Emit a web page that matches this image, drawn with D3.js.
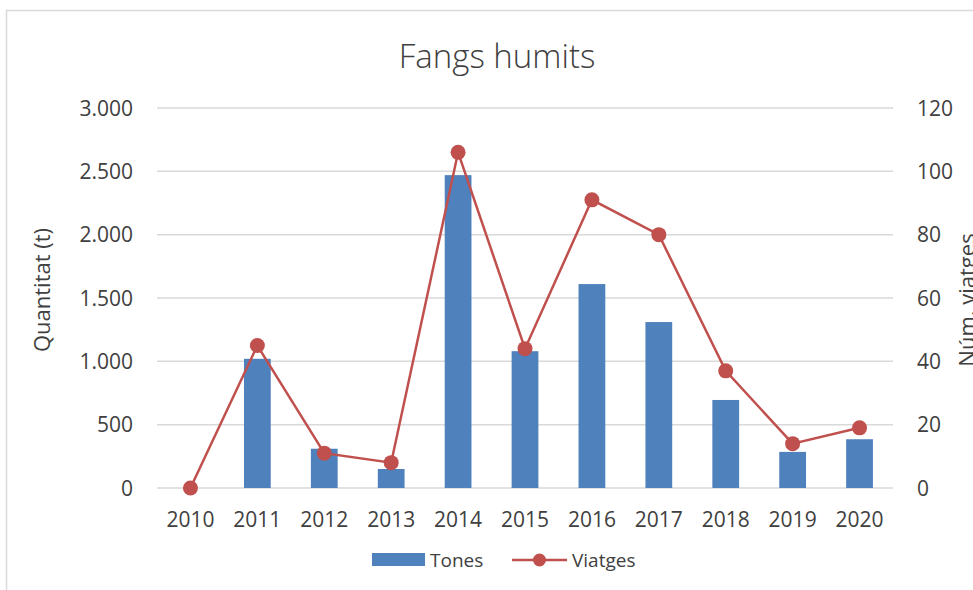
<!DOCTYPE html>
<html>
<head>
<meta charset="utf-8">
<script src="https://cdn.jsdelivr.net/npm/d3@7"></script>
<style>
  body { margin: 0; background: #fff; }
  text { font-family: "Open Sans", "Liberation Sans", sans-serif; fill: #404040; }
</style>
</head>
<body>
<svg id="chart" width="973" height="590"></svg>
<script>
// data
const years = ['2010', '2011', '2012', '2013', '2014', '2015', '2016', '2017', '2018', '2019', '2020'];
const tones = [0, 1020, 310, 150, 2470, 1080, 1610, 1310, 695, 285, 385];
const viatges = [0, 45, 11, 8, 106, 44, 91, 80, 37, 14, 19];
const leftTicks = [0, 500, 1000, 1500, 2000, 2500, 3000];
const rightTicks = [0, 20, 40, 60, 80, 100, 120];

const svg = d3.select('#chart');

// chart border (cut off on the right/bottom)
svg.append('rect')
  .attr('x', 6.5).attr('y', 10.5)
  .attr('width', 1000).attr('height', 640)
  .attr('fill', 'none')
  .attr('stroke', '#d9d9d9')
  .attr('stroke-width', 1.5);

const plotL = 157, plotR = 893, plotT = 108, plotB = 488;

const x = d3.scaleBand().domain(years).range([plotL, plotR]).paddingInner(0).paddingOuter(0);
const yL = d3.scaleLinear().domain([0, 3000]).range([plotB, plotT]);
const yR = d3.scaleLinear().domain([0, 120]).range([plotB, plotT]);

const fmt = d => d3.format(',')(d).replace(/,/g, '.');

// gridlines
svg.append('g').selectAll('line')
  .data(leftTicks)
  .enter().append('line')
  .attr('x1', plotL).attr('x2', plotR)
  .attr('y1', d => yL(d)).attr('y2', d => yL(d))
  .attr('stroke', '#d9d9d9')
  .attr('stroke-width', 1.5);

// left axis labels
svg.append('g').selectAll('text')
  .data(leftTicks)
  .enter().append('text')
  .attr('x', 133)
  .attr('y', d => yL(d))
  .attr('dy', '0.36em')
  .attr('text-anchor', 'end')
  .style('font-size', '21px')
  .text(fmt);

// right axis labels
svg.append('g').selectAll('text')
  .data(rightTicks)
  .enter().append('text')
  .attr('x', 917)
  .attr('y', d => yR(d))
  .attr('dy', '0.36em')
  .style('font-size', '21px')
  .text(d => d);

// x labels
svg.append('g').selectAll('text')
  .data(years)
  .enter().append('text')
  .attr('x', d => x(d) + x.bandwidth() / 2)
  .attr('y', 527)
  .attr('text-anchor', 'middle')
  .style('font-size', '21px')
  .text(d => d);

// bars
const barW = x.bandwidth() * 0.4;
svg.append('g').selectAll('rect')
  .data(tones)
  .enter().append('rect')
  .attr('x', (d, i) => x(years[i]) + (x.bandwidth() - barW) / 2)
  .attr('y', d => yL(d))
  .attr('width', barW)
  .attr('height', d => yL(0) - yL(d))
  .attr('fill', '#4f81bd');

// line
const line = d3.line()
  .x((d, i) => x(years[i]) + x.bandwidth() / 2)
  .y(d => yR(d));

svg.append('path')
  .datum(viatges)
  .attr('d', line)
  .attr('fill', 'none')
  .attr('stroke', '#c0504d')
  .attr('stroke-width', 2.5);

svg.append('g').selectAll('circle')
  .data(viatges)
  .enter().append('circle')
  .attr('cx', (d, i) => x(years[i]) + x.bandwidth() / 2)
  .attr('cy', d => yR(d))
  .attr('r', 7.5)
  .attr('fill', '#c0504d');

// title
svg.append('text')
  .attr('x', 497).attr('y', 68)
  .attr('text-anchor', 'middle')
  .style('font-size', '33px')
  .style('font-weight', 300)
  .text('Fangs humits');

// axis titles
svg.append('text')
  .attr('transform', 'translate(50,290) rotate(-90)')
  .attr('text-anchor', 'middle')
  .style('font-size', '22px')
  .text('Quantitat (t)');

svg.append('text')
  .attr('transform', 'translate(975,300) rotate(-90)')
  .attr('text-anchor', 'middle')
  .style('font-size', '22px')
  .text('Núm. viatges');

// legend
const lg = svg.append('g');
lg.append('rect')
  .attr('x', 372).attr('y', 553)
  .attr('width', 53).attr('height', 13)
  .attr('fill', '#4f81bd');
lg.append('text')
  .attr('x', 430).attr('y', 560)
  .attr('dy', '0.36em')
  .style('font-size', '19px')
  .text('Tones');
lg.append('line')
  .attr('x1', 512).attr('x2', 567)
  .attr('y1', 560).attr('y2', 560)
  .attr('stroke', '#c0504d')
  .attr('stroke-width', 2.5);
lg.append('circle')
  .attr('cx', 539.5).attr('cy', 560)
  .attr('r', 6.5)
  .attr('fill', '#c0504d');
lg.append('text')
  .attr('x', 572).attr('y', 560)
  .attr('dy', '0.36em')
  .style('font-size', '19px')
  .text('Viatges');
</script>
</body>
</html>
